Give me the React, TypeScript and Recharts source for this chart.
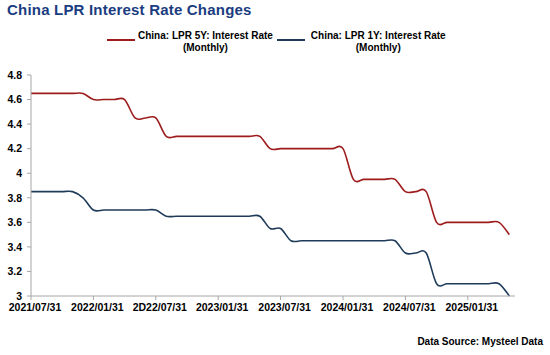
import React from 'react';
import { LineChart, Line, XAxis, YAxis } from 'recharts';

const months = [
  '2021/07/31', '2021/08/31', '2021/09/30', '2021/10/31', '2021/11/30', '2021/12/31',
  '2022/01/31', '2022/02/28', '2022/03/31', '2022/04/30', '2022/05/31', '2022/06/30',
  '2022/07/31', '2022/08/31', '2022/09/30', '2022/10/31', '2022/11/30', '2022/12/31',
  '2023/01/31', '2023/02/28', '2023/03/31', '2023/04/30', '2023/05/31', '2023/06/30',
  '2023/07/31', '2023/08/31', '2023/09/30', '2023/10/31', '2023/11/30', '2023/12/31',
  '2024/01/31', '2024/02/29', '2024/03/31', '2024/04/30', '2024/05/31', '2024/06/30',
  '2024/07/31', '2024/08/31', '2024/09/30', '2024/10/31', '2024/11/30', '2024/12/31',
  '2025/01/31', '2025/02/28', '2025/03/31', '2025/04/30', '2025/05/31',
];

const lpr5y = [
  4.65, 4.65, 4.65, 4.65, 4.65, 4.65,
  4.6, 4.6, 4.6, 4.6, 4.45, 4.45,
  4.45, 4.3, 4.3, 4.3, 4.3, 4.3,
  4.3, 4.3, 4.3, 4.3, 4.3, 4.2,
  4.2, 4.2, 4.2, 4.2, 4.2, 4.2,
  4.2, 3.95, 3.95, 3.95, 3.95, 3.95,
  3.85, 3.85, 3.85, 3.6, 3.6, 3.6,
  3.6, 3.6, 3.6, 3.6, 3.5,
];

const lpr1y = [
  3.85, 3.85, 3.85, 3.85, 3.85, 3.8,
  3.7, 3.7, 3.7, 3.7, 3.7, 3.7,
  3.7, 3.65, 3.65, 3.65, 3.65, 3.65,
  3.65, 3.65, 3.65, 3.65, 3.65, 3.55,
  3.55, 3.45, 3.45, 3.45, 3.45, 3.45,
  3.45, 3.45, 3.45, 3.45, 3.45, 3.45,
  3.35, 3.35, 3.35, 3.1, 3.1, 3.1,
  3.1, 3.1, 3.1, 3.1, 3.0,
];

const xTicks = ['2021/07/31', '2022/01/31', '2022/07/31', '2023/01/31', '2023/07/31', '2024/01/31', '2024/07/31', '2025/01/31'];
const xTickLabels = ['2021/07/31', '2022/01/31', '2D22/07/31', '2023/01/31', '2023/07/31', '2024/01/31', '2024/07/31', '2025/01/31'];
const yTicks = [3, 3.2, 3.4, 3.6, 3.8, 4, 4.2, 4.4, 4.6, 4.8];

const seriesNames = ['China: LPR 5Y: Interest Rate', 'China: LPR 1Y: Interest Rate'];
const RED = '#9e1c1c';
const BLUE = '#1f3b5a';
const AXIS = '#a6a6a6';
const FONT = "'Liberation Sans', Arial, sans-serif";

const data = months.map((m, i) => ({ month: m, y5: lpr5y[i], y1: lpr1y[i] }));

// Excel-like smoothed line (Catmull-Rom through the points)
const smoothCurve = (context: any) => {
  let pts: number[][] = [];
  return {
    areaStart() {},
    areaEnd() {},
    lineStart() { pts = []; },
    point(x: number, y: number) { pts.push([+x, +y]); },
    lineEnd() {
      const n = pts.length;
      if (!n) return;
      context.moveTo(pts[0][0], pts[0][1]);
      for (let i = 0; i < n - 1; i++) {
        const p0 = pts[Math.max(i - 1, 0)];
        const p1 = pts[i];
        const p2 = pts[i + 1];
        const p3 = pts[Math.min(i + 2, n - 1)];
        context.bezierCurveTo(
          p1[0] + (p2[0] - p0[0]) / 6, p1[1] + (p2[1] - p0[1]) / 6,
          p2[0] - (p3[0] - p1[0]) / 6, p2[1] - (p3[1] - p1[1]) / 6,
          p2[0], p2[1]
        );
      }
    },
  };
};

const LegendItem = ({ color, name, gap }: { color: string; name: string; gap: number }) => (
  <div style={{ display: 'flex', alignItems: 'flex-start' }}>
    <div style={{ width: 28, height: 2, background: color, marginTop: 8.5, marginRight: gap }} />
    <div style={{ textAlign: 'center', lineHeight: '12px' }}>
      <div>{name}</div>
      <div>(Monthly)</div>
    </div>
  </div>
);

export default function App() {
  return (
    <div style={{ position: 'absolute', left: 0, top: 0, width: 550, height: 355, background: '#fff', fontFamily: FONT }}>
      <div style={{ position: 'absolute', left: 7, top: 1, fontSize: 15, lineHeight: '18px', fontWeight: 700, letterSpacing: 0.2, color: '#1b3c80' }}>
        China LPR Interest Rate Changes
      </div>
      <div style={{ position: 'absolute', left: 107, top: 30, display: 'flex', gap: 4, fontSize: 10, fontWeight: 700, color: '#000' }}>
        <LegendItem color={RED} name={seriesNames[0]} gap={3} />
        <LegendItem color={BLUE} name={seriesNames[1]} gap={6} />
      </div>
      <LineChart width={550} height={355} data={data} margin={{ top: 75, right: 35, bottom: 29, left: 0 }}>
        <XAxis
          dataKey="month"
          scale="point"
          padding={{ left: 0, right: 5.6 }}
          ticks={xTicks}
          interval={0}
          tickFormatter={(v: string) => xTickLabels[xTicks.indexOf(v)] ?? v}
          height={30}
          tickSize={4}
          tickMargin={4}
          dx={4}
          axisLine={{ stroke: AXIS }}
          tickLine={{ stroke: AXIS }}
          tick={{ fontSize: 10.5, fontWeight: 700, fill: '#000', fontFamily: FONT, dx: 4 }}
        />
        <YAxis
          domain={[3, 4.8]}
          ticks={yTicks}
          width={31}
          tickSize={4}
          tickMargin={5}
          axisLine={{ stroke: AXIS }}
          tickLine={{ stroke: AXIS }}
          tick={{ fontSize: 10.5, fontWeight: 700, fill: '#000', fontFamily: FONT }}
        />
        <YAxis
          yAxisId="frame"
          orientation="right"
          domain={[3, 4.8]}
          width={0}
          tick={false}
          tickLine={false}
          axisLine={{ stroke: AXIS }}
        />
        <Line dataKey="y5" name={seriesNames[0]} type={smoothCurve as any} stroke={RED} strokeWidth={1.6} dot={false} isAnimationActive={false} />
        <Line dataKey="y1" name={seriesNames[1]} type={smoothCurve as any} stroke={BLUE} strokeWidth={1.6} dot={false} isAnimationActive={false} />
      </LineChart>
      <div style={{ position: 'absolute', right: 7, top: 336, fontSize: 10, lineHeight: '12px', fontWeight: 700, color: '#000' }}>
        Data Source: Mysteel Data
      </div>
    </div>
  );
}
